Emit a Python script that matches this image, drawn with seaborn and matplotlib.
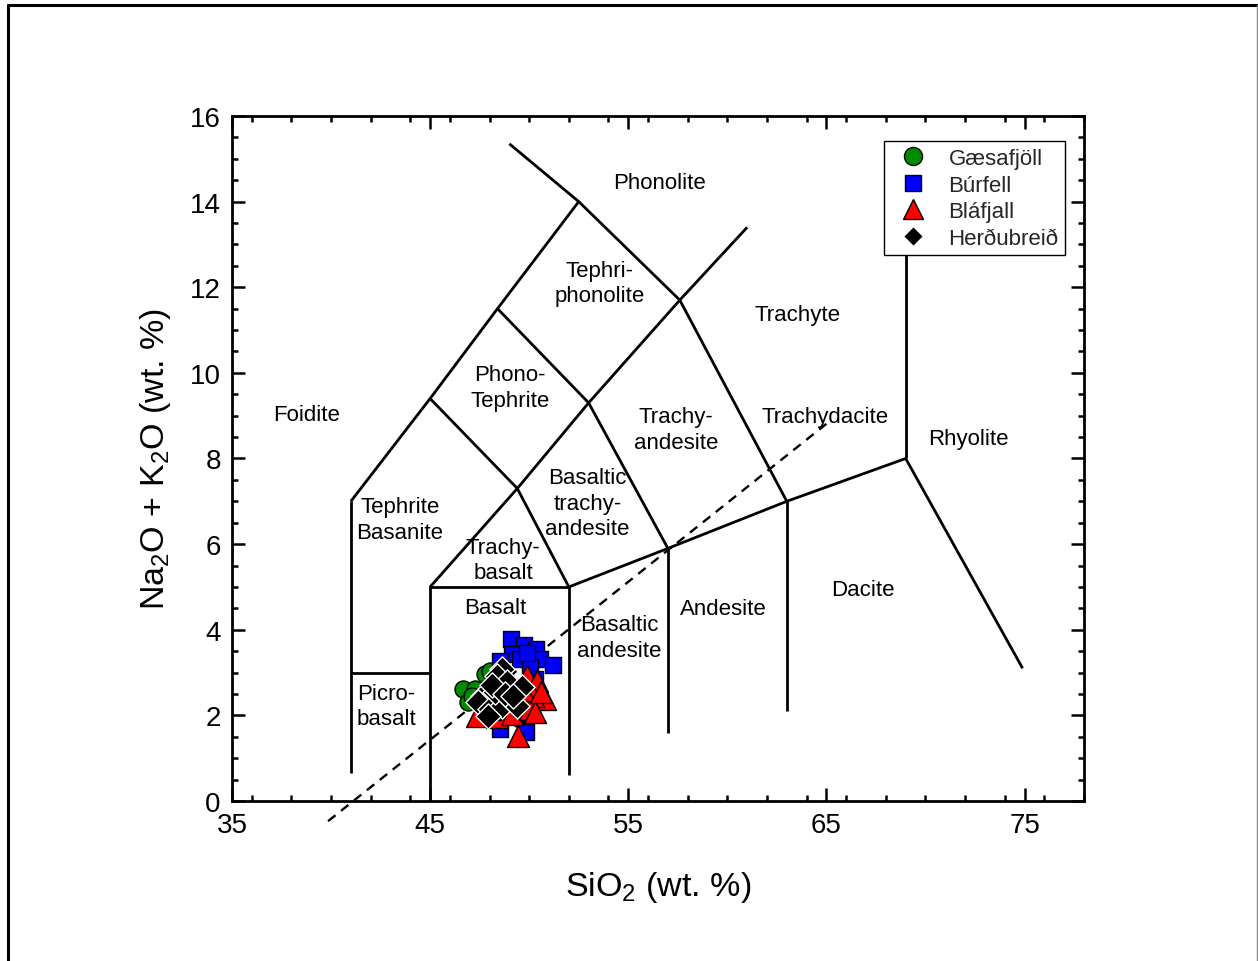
import numpy as np
import pandas as pd
import matplotlib
matplotlib.use("Agg")
import matplotlib.pyplot as plt
from matplotlib.lines import Line2D
from matplotlib.ticker import MultipleLocator
import seaborn as sns

sns.set_theme(style="ticks")
plt.rcParams["font.family"] = ["Liberation Sans", "DejaVu Sans"]
plt.rcParams["mathtext.fontset"] = "custom"
plt.rcParams["mathtext.rm"] = "Liberation Sans"
plt.rcParams["mathtext.it"] = "Liberation Sans:italic"
plt.rcParams["mathtext.bf"] = "Liberation Sans:bold"

# ---- sample compositions (SiO2, Na2O+K2O in wt. %) ----
gaesafjoll_sio2 = [46.67, 46.92, 47.78, 48.03, 47.27, 49.55, 47.10, 48.40]
gaesafjoll_alk = [2.62, 2.31, 2.97, 3.04, 2.62, 1.92, 2.45, 2.20]

burfell_sio2 = [49.09, 49.75, 50.35, 49.14, 48.54, 49.55, 50.56, 51.21, 48.79,
                50.05, 48.03, 49.04, 49.55, 48.54, 49.85, 47.78, 49.29, 50.30,
                49.90, 48.30]
burfell_alk = [3.78, 3.64, 3.55, 3.43, 3.27, 3.32, 3.32, 3.18, 2.97,
               3.13, 2.62, 2.38, 2.03, 1.68, 1.61, 2.38, 2.62, 2.85,
               3.45, 2.80]

blafjall_sio2 = [49.88, 50.39, 50.81, 50.20, 49.44, 47.36, 48.37, 49.13, 50.05,
                 50.30, 48.79, 48.03, 49.70, 50.60]
blafjall_alk = [2.93, 2.81, 2.38, 2.45, 1.52, 1.99, 1.96, 2.03, 2.15,
                2.08, 2.38, 2.15, 2.60, 2.55]

herdubreid_sio2 = [48.62, 48.37, 49.44, 47.68, 47.42, 48.03, 48.62, 49.04,
                   49.38, 48.28, 48.87, 47.93, 49.65, 48.10, 48.80, 49.20]
herdubreid_alk = [3.08, 2.93, 2.62, 2.45, 2.31, 2.15, 2.23, 2.38,
                  2.23, 2.55, 2.78, 1.99, 2.66, 2.70, 2.50, 2.45]

localities = ["Gæsafjöll", "Búrfell", "Bláfjall", "Herðubreið"]
loc_colors = {"Gæsafjöll": "#008a00", "Búrfell": "#0000ff",
              "Bláfjall": "#ff0000", "Herðubreið": "#000000"}
loc_markers = {"Gæsafjöll": "o", "Búrfell": "s", "Bláfjall": "^", "Herðubreið": "D"}
loc_edges = {"Gæsafjöll": "black", "Búrfell": "black", "Bláfjall": "black",
             "Herðubreið": "white"}
loc_sizes = {"Gæsafjöll": 150, "Búrfell": 145, "Bláfjall": 250, "Herðubreið": 165}

df = pd.concat([
    pd.DataFrame({"SiO2": gaesafjoll_sio2, "alk": gaesafjoll_alk, "loc": "Gæsafjöll"}),
    pd.DataFrame({"SiO2": burfell_sio2, "alk": burfell_alk, "loc": "Búrfell"}),
    pd.DataFrame({"SiO2": blafjall_sio2, "alk": blafjall_alk, "loc": "Bláfjall"}),
    pd.DataFrame({"SiO2": herdubreid_sio2, "alk": herdubreid_alk, "loc": "Herðubreið"}),
], ignore_index=True)

# ---- TAS field boundaries (polylines) ----
tas_boundaries = [
    [(41.0, 0.65), (41.0, 7.0)],
    [(41.0, 3.0), (45.0, 3.0)],
    [(45.0, 0.0), (45.0, 5.0), (52.0, 5.0), (52.0, 0.6)],
    [(41.0, 7.0), (45.0, 9.4), (48.4, 11.5), (52.5, 14.0), (49.0, 15.35)],
    [(45.0, 5.0), (49.4, 7.3), (53.0, 9.3), (57.6, 11.7), (61.0, 13.4)],
    [(52.0, 5.0), (57.0, 5.9), (63.0, 7.0), (69.0, 8.0)],
    [(49.4, 7.3), (52.0, 5.0)],
    [(53.0, 9.3), (57.0, 5.9)],
    [(57.6, 11.7), (63.0, 7.0)],
    [(45.0, 9.4), (49.4, 7.3)],
    [(48.4, 11.5), (53.0, 9.3)],
    [(52.5, 14.0), (57.6, 11.7)],
    [(57.0, 5.9), (57.0, 1.6)],
    [(63.0, 7.0), (63.0, 2.1)],
    [(69.0, 8.0), (69.0, 12.85)],
    [(69.0, 8.0), (74.9, 3.1)],
]
alkaline_divide = [(39.85, -0.47), (65.0, 8.81)]

field_names = ["Foidite", "Phonolite", "Tephri-\nphonolite", "Trachyte",
               "Phono-\nTephrite", "Trachy-\nandesite", "Trachydacite", "Rhyolite",
               "Tephrite\nBasanite", "Basaltic\ntrachy-\nandesite", "Trachy-\nbasalt",
               "Basalt", "Basaltic\nandesite", "Andesite", "Dacite", "Picro-\nbasalt"]
field_x = [38.74, 56.57, 53.54, 63.54, 49.04, 57.42, 64.95, 72.17,
           43.48, 52.93, 48.69, 48.28, 54.55, 59.80, 66.82, 42.78]
field_y = [9.02, 14.44, 12.10, 11.36, 9.65, 8.67, 8.97, 8.46,
           6.57, 6.96, 5.63, 4.53, 3.81, 4.49, 4.95, 2.22]

fig = plt.figure(figsize=(12.58, 9.62), dpi=100)
fig.patch.set_facecolor("white")
ax = fig.add_axes([0.1844, 0.1663, 0.8617 - 0.1844, 0.8784 - 0.1663])

# outer frame
fw, fh = 1258.0, 962.0
fig.add_artist(Line2D([8 / fw, 8 / fw], [-0.01, 1 - 6 / fh], color="black",
                      lw=2.2, transform=fig.transFigure))
fig.add_artist(Line2D([8 / fw, 1257 / fw], [1 - 6 / fh, 1 - 6 / fh], color="black",
                      lw=2.2, transform=fig.transFigure))
fig.add_artist(Line2D([1257 / fw, 1257 / fw], [-0.01, 1 - 6 / fh], color="#888888",
                      lw=1.0, transform=fig.transFigure))

for seg in tas_boundaries:
    xs, ys = zip(*seg)
    ax.plot(xs, ys, color="black", lw=2.0, solid_capstyle="butt",
            solid_joinstyle="miter", zorder=2)

xs, ys = zip(*alkaline_divide)
ax.plot(xs, ys, color="black", lw=1.7, ls=(0, (4.0, 3.0)), clip_on=False, zorder=2)

for name, x, y in zip(field_names, field_x, field_y):
    ax.text(x, y, name, ha="center", va="center", fontsize=16,
            linespacing=1.3, color="black", zorder=3)

for loc in localities:
    sub = df[df["loc"] == loc]
    sns.scatterplot(data=sub, x="SiO2", y="alk", ax=ax, color=loc_colors[loc],
                    marker=loc_markers[loc], s=loc_sizes[loc],
                    edgecolor=loc_edges[loc], linewidth=1.0, zorder=4, legend=False)

ax.set_xlim(35, 78)
ax.set_ylim(0, 16)
ax.xaxis.set_major_locator(MultipleLocator(10))
ax.xaxis.set_minor_locator(MultipleLocator(2))
ax.yaxis.set_major_locator(MultipleLocator(2))
ax.yaxis.set_minor_locator(MultipleLocator(0.5))
ax.set_xticks([35, 45, 55, 65, 75])
ax.tick_params(which="both", direction="in", top=True, right=True, width=1.8,
               color="black", labelsize=20, labelcolor="black")
ax.tick_params(which="major", length=9.5, pad=8)
ax.tick_params(which="minor", length=4.5)
for sp in ax.spines.values():
    sp.set_linewidth(2.0)
    sp.set_color("black")
ax.set_facecolor("white")
ax.grid(False)

ax.set_xlabel("SiO$_2$ (wt. %)", fontsize=24.5, labelpad=22, color="black")
ax.set_ylabel("Na$_2$O + K$_2$O (wt. %)", fontsize=24.5, labelpad=12, color="black")

handles = [
    Line2D([], [], ls="none", marker="o", markersize=13, markerfacecolor=loc_colors["Gæsafjöll"],
           markeredgecolor="black", markeredgewidth=1.0),
    Line2D([], [], ls="none", marker="s", markersize=11, markerfacecolor=loc_colors["Búrfell"],
           markeredgecolor="black", markeredgewidth=1.0),
    Line2D([], [], ls="none", marker="^", markersize=15, markerfacecolor=loc_colors["Bláfjall"],
           markeredgecolor="black", markeredgewidth=1.0),
    Line2D([], [], ls="none", marker="D", markersize=10, markerfacecolor="black",
           markeredgecolor="white", markeredgewidth=1.0),
]
leg = ax.legend(handles, localities, loc="upper right", bbox_to_anchor=(0.978, 0.963),
                fontsize=16, frameon=True, fancybox=False, framealpha=1,
                edgecolor="black", borderpad=0.3, labelspacing=0.25,
                handletextpad=0.6, handlelength=2.0, borderaxespad=0)
leg.get_frame().set_linewidth(1.0)
leg.set_zorder(6)

fig.savefig("out.png", dpi=100, facecolor="white")
